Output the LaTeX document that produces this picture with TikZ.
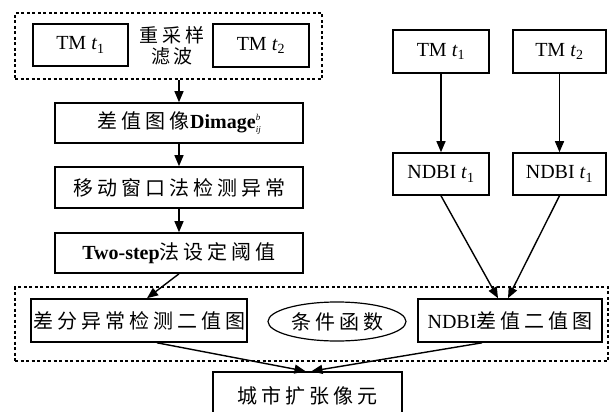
\documentclass[tikz,border=0pt]{standalone}
\usepackage{fontspec}
\setmainfont{Liberation Serif}
\newfontfamily\cjk[LetterSpace=20]{Noto Sans CJK SC}
\usetikzlibrary{arrows.meta,shapes.geometric}

\begin{document}
\begin{tikzpicture}[x=1pt, y=-1pt,
    box/.style={draw, line width=1.6pt, inner sep=0pt, font=\fontsize{20}{22}\selectfont},
    group/.style={draw, line width=1.6pt, dash pattern=on 3pt off 2.5pt, inner sep=0pt},
    arr/.style={line width=1.4pt, -{Triangle[length=11pt,width=9pt]}}]
  \clip (0,0) rectangle (613,412);
  \fill[white] (0,0) rectangle (613,412);

  % left branch: resampling and anomaly detection
  \node[group, minimum width=307pt, minimum height=66pt] (grpTop) at (168.5,46) {};
  \node[box, minimum width=95pt, minimum height=42pt] (tmA) at (80.5,45) {TM \textit{t}\textsubscript{1}};
  \node[box, minimum width=96pt, minimum height=43pt] (tmB) at (261,45.5) {TM \textit{t}\textsubscript{2}};
  \node[font=\fontsize{19}{21}\selectfont, align=center, inner sep=0pt] (resample) at (172,46) {{\cjk 重采样}\\{\cjk 滤波}};

  \node[box, minimum width=248pt, minimum height=40pt] (dimg) at (179,123)
    {{\cjk 差值图像}\hspace{-3pt}\textbf{Dimage}\fontsize{9}{9}\selectfont\itshape
     \rlap{\raisebox{8pt}{b}}\raisebox{-4pt}{ij}};
  \node[box, minimum width=248pt, minimum height=41pt] (mwin) at (179,187.5) {\cjk 移动窗口法检测异常};
  \node[box, minimum width=248pt, minimum height=40pt] (tstep) at (179,253) {\textbf{Two-step}{\cjk 法设定阈值}};

  % right branch: NDBI
  \node[box, minimum width=96pt, minimum height=43pt] (tmC) at (441,51.5) {TM \textit{t}\textsubscript{1}};
  \node[box, minimum width=93pt, minimum height=43pt] (tmD) at (559.5,51.5) {TM \textit{t}\textsubscript{2}};
  \node[box, minimum width=96pt, minimum height=42pt] (ndbiA) at (441,174) {NDBI \textit{t}\textsubscript{1}};
  \node[box, minimum width=93pt, minimum height=42pt] (ndbiB) at (559.5,174) {NDBI \textit{t}\textsubscript{1}};

  % combination
  \node[group, minimum width=593pt, minimum height=74pt] (grpBot) at (311.5,324) {};
  \node[box, minimum width=216pt, minimum height=43pt] (bindiff) at (139,320.5) {\cjk 差分异常检测二值图};
  \node[box, ellipse, line width=1.2pt, minimum width=138pt, minimum height=39pt] (cond) at (337,321.5) {\cjk 条件函数};
  \node[box, minimum width=184pt, minimum height=43pt] (ndbidiff) at (510,320.5) {NDBI{\cjk 差值二值图}};
  \node[box, minimum width=189pt, minimum height=48pt] (urban) at (307.5,396) {\cjk 城市扩张像元};

  \draw[arr] (grpTop.south -| dimg.north) -- (dimg.north);
  \draw[arr] (dimg) -- (mwin);
  \draw[arr] (mwin) -- (tstep);
  \draw[arr] (tstep.south) -- ([xshift=8pt]bindiff.north);
  \draw[arr] (tmC) -- (ndbiA);
  \draw[arr] (tmD) -- (ndbiB);
  \draw[arr] (ndbiA.south) -- ([xshift=-12pt]ndbidiff.north);
  \draw[arr] (ndbiB.south) -- ([xshift=-2pt]ndbidiff.north);
  \draw[arr] ([xshift=18pt]bindiff.south) -- ([xshift=-2pt]urban.north);
  \draw[arr] ([xshift=-28pt]ndbidiff.south) -- ([xshift=4pt]urban.north);
\end{tikzpicture}
\end{document}
